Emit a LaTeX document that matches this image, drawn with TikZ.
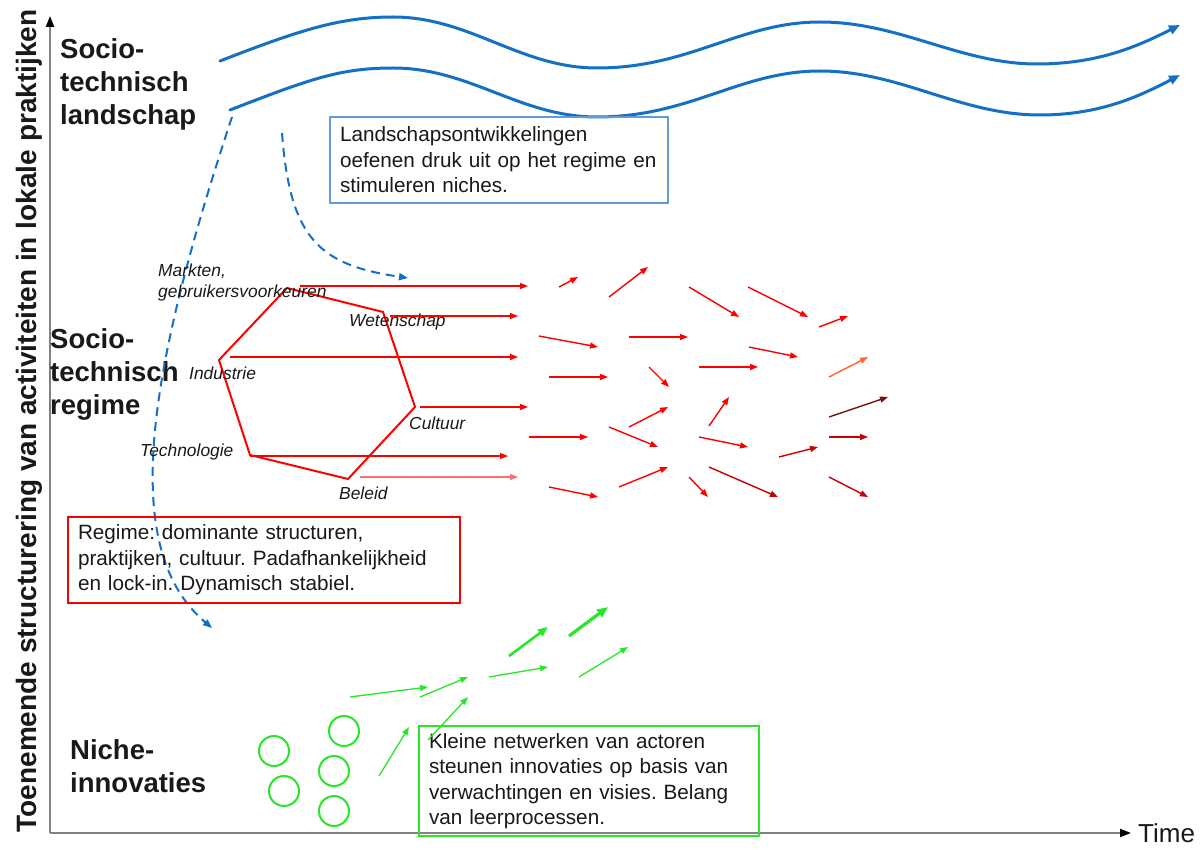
\documentclass[tikz,border=0pt]{standalone}
\usepackage{fontspec}
\setmainfont{Liberation Sans}
\usetikzlibrary{arrows.meta}
\frenchspacing
\definecolor{wavec}{RGB}{20,112,196}
\definecolor{lboxc}{RGB}{100,155,215}
\definecolor{rdc}{RGB}{255,0,0}
\definecolor{pinkc}{RGB}{255,110,110}
\definecolor{orc}{RGB}{255,100,50}
\definecolor{brc}{RGB}{120,20,20}
\definecolor{drc}{RGB}{200,0,0}
\definecolor{grc}{RGB}{40,230,40}
\definecolor{txtc}{RGB}{25,25,25}
\definecolor{axc}{RGB}{130,130,130}
\tikzset{
  axisline/.style={draw=axc, line width=2pt, -{Triangle[length=11pt,width=8pt,fill=black,color=black]}},
  waveline/.style={draw=wavec, line width=3pt, line cap=round, -{Triangle[length=11pt,width=9pt]}},
  dashcurve/.style={draw=wavec, line width=2pt, dash pattern=on 9pt off 6pt, -{Triangle[length=9pt,width=7pt]}},
  redarr/.style={draw=rdc, line width=1.4pt, -{Triangle[length=8pt,width=6pt]}},
  grnarr/.style={draw=grc, line width=1.3pt, -{Triangle[length=8pt,width=6pt]}},
  hexline/.style={draw=rdc, line width=2pt, line join=miter},
  boxtext/.style={align=left, inner xsep=10pt, inner ysep=0pt, text=txtc, font=\fontsize{20.7}{25.5}\selectfont},
  bigbold/.style={align=left, anchor=west, inner sep=0pt, text=txtc, font=\bfseries\fontsize{27.5}{33}\selectfont},
  itlabel/.style={anchor=west, inner sep=0pt, text=txtc, align=left, font=\itshape\fontsize{17.4}{21}\selectfont},
  nichecircle/.style={draw=grc, line width=2pt, circle, minimum size=30pt, inner sep=0pt}
}
\begin{document}
\begin{tikzpicture}[x=1pt,y=-1pt]
\useasboundingbox[fill=white] (0,0) rectangle (1201,850);

% axes
\coordinate (O) at (50,833);
\coordinate (ytop) at (50,16);
\coordinate (xend) at (1131,833);
\draw[axisline] (O) -- (ytop);
\draw[axisline] (O) -- (xend);
\node[anchor=west, inner sep=0pt, text=txtc, font=\fontsize{26}{30}\selectfont] (time) at (1138,833) {Time};
\node[rotate=90, inner sep=0pt, text=txtc, font=\bfseries\fontsize{28}{33}\selectfont] (ylab) at (29,421) {Toenemende structurering van activiteiten in lokale praktijken};

% level labels
\node[bigbold] (lland) at (60,84) {Socio-\\technisch\\landschap};
\node[bigbold] (lreg) at (50,374) {Socio-\\technisch\\regime};
\node[bigbold] (lniche) at (70,766) {Niche-\\innovaties};

% landscape waves
\draw[waveline] (220,61) .. controls (300,30) and (340,17) .. (393,17)
  .. controls (470,17) and (520,68) .. (597,68)
  .. controls (690,68) and (740,22) .. (820,22)
  .. controls (900,22) and (960,64) .. (1037,64)
  .. controls (1100,64) and (1140,45) .. (1180,25);
\draw[waveline] (230,110) .. controls (310,79) and (340,68) .. (393,68)
  .. controls (470,68) and (520,117) .. (597,117)
  .. controls (690,117) and (740,71) .. (820,71)
  .. controls (900,71) and (960,115) .. (1040,115)
  .. controls (1100,115) and (1140,96) .. (1180,75);

% dashed influence curves
\draw[dashcurve] (232,117) .. controls (145,380) and (120,550) .. (212,628);
\draw[dashcurve] (282,133) .. controls (290,240) and (320,265) .. (408,278);

% boxes
\node[boxtext, draw=lboxc, line width=1.4pt, text width=318pt, minimum height=86pt] (lbox) at (499,160) {Landschapsontwikkelingen\\oefenen druk uit op het regime en\\stimuleren niches.};
\node[boxtext, draw=rdc, line width=1.6pt, text width=372pt, minimum height=86pt] (rbox) at (264,560) {Regime: dominante structuren,\\praktijken, cultuur. Padafhankelijkheid\\en lock-in. Dynamisch stabiel.};
\node[boxtext, draw=grc, line width=2pt, text width=320pt, minimum height=110pt] (nbox) at (589,781) {Kleine netwerken van actoren\\steunen innovaties op basis van\\verwachtingen en visies. Belang\\van leerprocessen.};

% regime hexagon
\draw[hexline] (287,288) -- (383,312) -- (415,407) -- (348,479) -- (250,455) -- (219,360) -- cycle;

% hexagon labels
\node[itlabel] (markt) at (158,283) {Markten,\\gebruikersvoorkeuren};
\node[itlabel] (wet) at (349,322) {Wetenschap};
\node[itlabel] (ind) at (189,373) {Industrie};
\node[itlabel] (cult) at (409,423) {Cultuur};
\node[itlabel] (tech) at (140,452) {Technologie};
\node[itlabel] (bel) at (339,493) {Beleid};

% regime horizontal arrows
\draw[redarr] (300,286) -- (528,286);
\draw[redarr] (390,316) -- (518,316);
\draw[redarr] (230,357) -- (518,357);
\draw[redarr] (420,407) -- (528,407);
\draw[redarr] (250,456) -- (508,456);
\draw[redarr, draw=pinkc] (360,477) -- (518,477);

% scattered regime arrows
\draw[redarr] (559,287) -- (578,277);
\draw[redarr] (609,297) -- (648,267);
\draw[redarr] (689,287) -- (739,317);
\draw[redarr] (748,287) -- (808,317);
\draw[redarr] (819,327) -- (848,316);
\draw[redarr] (539,336) -- (598,347);
\draw[redarr] (629,337) -- (688,337);
\draw[redarr] (749,347) -- (798,357);
\draw[redarr, draw=orc] (829,377) -- (868,357);
\draw[redarr] (549,377) -- (608,377);
\draw[redarr] (649,367) -- (669,387);
\draw[redarr] (699,367) -- (758,367);
\draw[redarr, draw=brc] (829,417) -- (888,397);
\draw[redarr] (629,427) -- (668,407);
\draw[redarr] (709,426) -- (729,397);
\draw[redarr] (529,437) -- (588,437);
\draw[redarr] (609,427) -- (658,447);
\draw[redarr] (699,437) -- (748,447);
\draw[redarr, draw=drc] (829,437) -- (868,437);
\draw[redarr, draw=drc] (779,457) -- (818,447);
\draw[redarr] (549,487) -- (598,497);
\draw[redarr] (619,487) -- (668,467);
\draw[redarr] (689,477) -- (708,497);
\draw[redarr, draw=drc] (709,467) -- (778,497);
\draw[redarr, draw=drc] (829,477) -- (868,497);

% niches
\node[nichecircle] (c1) at (274,751) {};
\node[nichecircle] (c2) at (344,731) {};
\node[nichecircle] (c3) at (334,771) {};
\node[nichecircle] (c4) at (284,791) {};
\node[nichecircle] (c5) at (334,811) {};

% niche arrows
\draw[grnarr] (350,697) -- (428,687);
\draw[grnarr] (420,697) -- (468,677);
\draw[grnarr, line width=2.6pt, -{Triangle[length=10pt,width=8pt]}] (509,656) -- (548,627);
\draw[grnarr, line width=3.2pt, -{Triangle[length=11pt,width=9pt]}] (569,636) -- (608,607);
\draw[grnarr] (489,677) -- (548,667);
\draw[grnarr] (579,677) -- (628,647);
\draw[grnarr] (428,740) -- (468,697);
\draw[grnarr] (379,776) -- (409,727);
\end{tikzpicture}
\end{document}
